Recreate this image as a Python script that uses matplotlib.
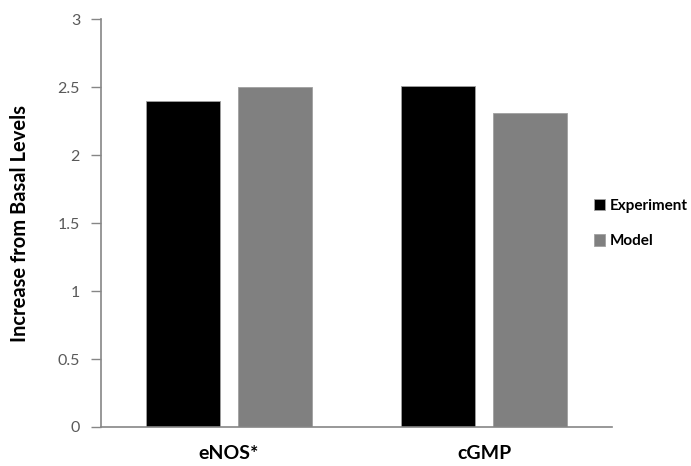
import numpy as np
import matplotlib
matplotlib.use("Agg")
import matplotlib.pyplot as plt

# values
categories = ["eNOS*", "cGMP"]
experiment = [2.40, 2.51]
model = [2.50, 2.31]
series_names = ["Experiment", "Model"]
yticks = [0, 0.5, 1, 1.5, 2, 2.5, 3]
ytick_labels = ["0", "0.5", "1", "1.5", "2", "2.5", "3"]

plt.rcParams["font.family"] = ["Lato", "DejaVu Sans"]
AXIS = "#868686"; TICKTXT = "#595959"

fig = plt.figure(figsize=(6.91, 4.66), dpi=100)
ax = fig.add_axes([0.146, 0.0837, 0.740, 0.875])

x = np.arange(len(categories))
w = 0.29
ax.bar(x - 0.18, experiment, w, color="#000000", edgecolor="#a0a0a0", linewidth=0.6, label=series_names[0])
ax.bar(x + 0.18, model, w, color="#808080", edgecolor="#a0a0a0", linewidth=0.6, label=series_names[1])

ax.set_xlim(-0.5, 1.5); ax.set_ylim(0, 3)
ax.set_yticks(yticks); ax.set_yticklabels(ytick_labels)
ax.set_xticks(x); ax.set_xticklabels(categories, fontsize=14, fontweight="bold")
ax.tick_params(axis="x", length=0, pad=13)
ax.tick_params(axis="y", length=7, width=1, color=AXIS, labelcolor=TICKTXT, labelsize=11.5, pad=8)
for s in ["top", "right"]:
    ax.spines[s].set_visible(False)
for s in ["left", "bottom"]:
    ax.spines[s].set_color(AXIS); ax.spines[s].set_linewidth(1.2)

ax.set_ylabel("Increase from Basal Levels", fontsize=14.5, fontweight="bold", labelpad=20)

fig.legend(loc="center left", bbox_to_anchor=(0.855, 0.52), frameon=False,
           prop={"weight": "bold", "size": 11}, handlelength=0.75, handleheight=0.75,
           handletextpad=0.3, labelspacing=1.4, borderpad=0.2, borderaxespad=0)

fig.savefig("out.png", dpi=100)
